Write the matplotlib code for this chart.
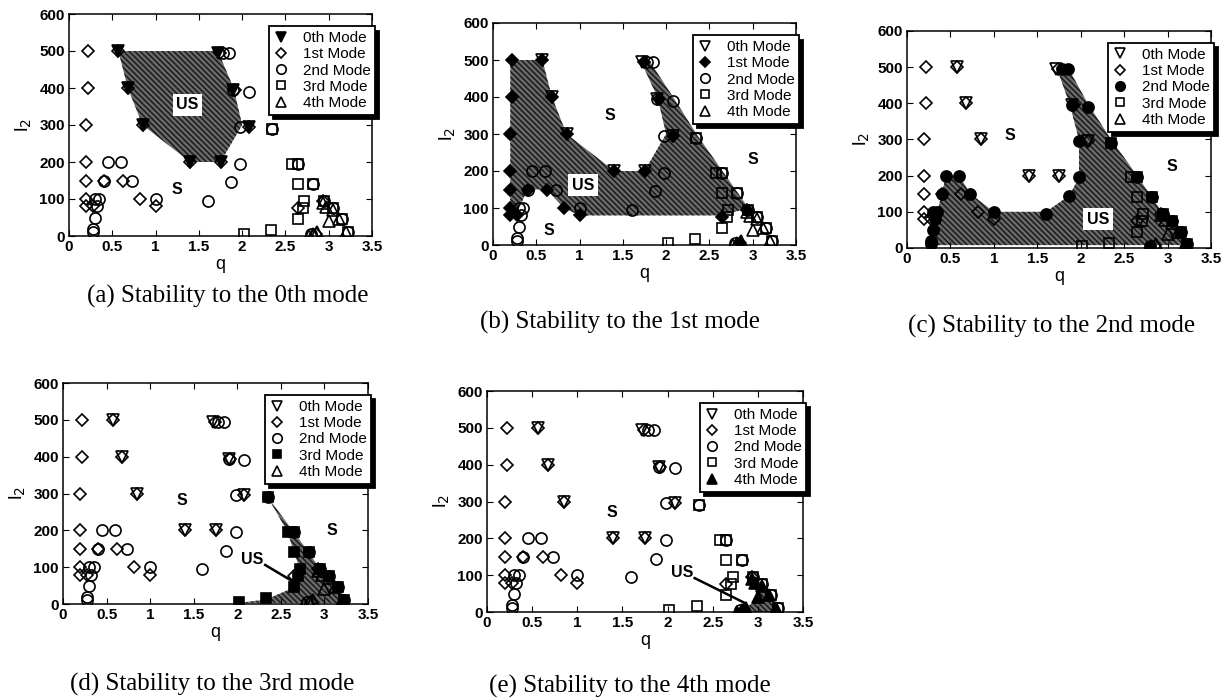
import numpy as np
import matplotlib
matplotlib.use('Agg')
import matplotlib.pyplot as plt

# data points (q, l2) where each mode was evaluated
q0 = [0.57, 0.68, 0.85, 1.40, 1.75, 1.72, 1.90, 2.08]
l0 = [500, 400, 300, 200, 200, 495, 395, 295]

q1 = [0.22, 0.22, 0.20, 0.20, 0.20, 0.20, 0.20, 0.28, 0.40, 0.62, 0.82, 1.00,
      0.57, 0.68, 0.85, 1.40, 1.75, 1.74, 1.92, 2.08, 2.65, 2.93, 2.85]
l1 = [500, 400, 300, 200, 150, 100, 80, 80, 150, 150, 100, 80,
      500, 400, 300, 200, 200, 495, 395, 295, 75, 95, 5]

q2 = [0.28, 0.28, 0.30, 0.32, 0.30, 0.35, 0.45, 0.60, 0.40, 0.73, 1.00, 1.60,
      1.87, 1.98, 1.98, 1.90, 2.08, 1.78, 1.85, 2.35, 2.65, 2.82, 2.95, 3.05,
      3.15, 3.22, 2.80]
l2 = [20, 10, 50, 80, 100, 100, 200, 200, 150, 150, 100, 95,
      145, 195, 295, 395, 390, 495, 495, 290, 195, 140, 95, 75,
      45, 10, 5]

q3 = [2.02, 2.33, 2.65, 2.70, 2.72, 2.65, 2.58, 2.35, 2.65, 2.82, 2.95, 3.05, 3.15, 3.22]
l3 = [5, 15, 45, 75, 95, 140, 195, 290, 195, 140, 95, 75, 45, 10]

q4 = [2.93, 2.97, 3.05, 3.00, 3.12, 3.20, 2.77, 2.87, 2.82]
l4 = [90, 78, 70, 40, 45, 10, 0, 10, 5]

mode_q = [q0, q1, q2, q3, q4]
mode_l = [l0, l1, l2, l3, l4]
mode_names = ['0th Mode', '1st Mode', '2nd Mode', '3rd Mode', '4th Mode']
mode_markers = ['v', 'D', 'o', 's', '^']
mode_sizes = [8, 6, 8, 7.5, 8]

# unstable regions for each panel
us_q = [
    [0.57, 1.72, 1.90, 2.00, 1.75, 1.40, 0.85, 0.68],
    [0.20, 0.57, 0.68, 0.85, 1.40, 1.75, 2.00, 1.90, 1.70, 1.80, 2.08, 2.35, 2.65,
     2.95, 2.65, 1.00, 0.82, 0.62, 0.40, 0.30, 0.25, 0.20],
    [0.30, 0.35, 0.45, 0.60, 0.73, 1.00, 1.60, 1.87, 1.98, 1.98, 1.87, 1.72, 1.85,
     2.08, 2.35, 2.65, 2.82, 2.95, 3.05, 3.15, 3.22, 3.20, 0.30],
    [2.35, 2.58, 2.65, 2.72, 2.65, 2.33, 2.02, 3.22, 3.22, 3.15, 3.05, 2.95, 2.82, 2.65],
    [2.95, 3.05, 3.12, 3.22, 3.20, 2.77, 2.87, 3.00, 2.95],
]
us_l = [
    [500, 500, 400, 300, 200, 200, 300, 400],
    [500, 500, 400, 300, 200, 200, 300, 400, 500, 500, 400, 300, 200,
     100, 80, 80, 100, 150, 150, 100, 80, 80],
    [10, 100, 200, 200, 150, 100, 100, 145, 195, 300, 400, 500, 500,
     400, 300, 200, 140, 95, 75, 45, 10, 8, 8],
    [290, 195, 140, 95, 45, 12, 3, 3, 10, 45, 75, 95, 140, 195],
    [95, 75, 45, 10, 0, 0, 10, 40, 75],
]

captions = ['(a) Stability to the 0th mode', '(b) Stability to the 1st mode',
            '(c) Stability to the 2nd mode', '(d) Stability to the 3rd mode',
            '(e) Stability to the 4th mode']

# labels: (q, l2, text)
labels = [
    [(1.37, 355, 'US'), (1.25, 125, 'S')],
    [(1.35, 350, 'S'), (1.04, 162, 'US'), (3.0, 230, 'S'), (0.64, 40, 'S')],
    [(1.19, 310, 'S'), (2.2, 80, 'US'), (3.05, 224, 'S')],
    [(1.37, 282, 'S'), (2.17, 120, 'US'), (3.08, 200, 'S')],
    [(1.38, 269, 'S'), (2.16, 106, 'US')],
]
pointers = [None, None, None, [(2.32, 106), (2.66, 58)], [(2.30, 92), (2.86, 24)]]

# axes boxes in pixels: left, right, top, bottom
boxes = [(69, 372, 14, 236), (493, 796, 23, 245), (907, 1211, 31, 248),
         (63, 368, 383, 604), (487, 803, 391, 612)]
cap_pos = [(228, 296), (620, 322), (1052, 326), (212, 684), (630, 686)]

W, H = 1226, 698
plt.rcParams['font.family'] = ['Liberation Sans', 'DejaVu Sans']
plt.rcParams['hatch.linewidth'] = 1.1

fig = plt.figure(figsize=(W / 100, H / 100), dpi=100)

for p in range(5):
    x0, x1, y0, y1 = boxes[p]
    ax = fig.add_axes([x0 / W, 1 - y1 / H, (x1 - x0) / W, (y1 - y0) / H])

    ax.fill(us_q[p], us_l[p], facecolor='#6a6a6a', edgecolor='#1a1a1a',
            hatch='\\\\\\\\\\\\', linewidth=0, zorder=1)

    handles = []
    for m in range(5):
        filled = (m == p)
        h, = ax.plot(mode_q[m], mode_l[m], linestyle='none', marker=mode_markers[m],
                     markersize=mode_sizes[m], markeredgecolor='k', markeredgewidth=1.2,
                     markerfacecolor='k' if filled else 'none', label=mode_names[m],
                     zorder=5 if filled else 3)
        handles.append(h)

    for (tq, tl, tx) in labels[p]:
        if tx == 'US':
            ax.text(tq, tl, tx, ha='center', va='center', fontsize=11.5, fontweight='bold',
                    zorder=6, bbox=dict(facecolor='white', edgecolor='none', pad=2.5))
        else:
            ax.text(tq, tl, tx, ha='center', va='center', fontsize=11.5, fontweight='bold',
                    zorder=6)
    if pointers[p] is not None:
        (a, b), (c, d) = pointers[p]
        ax.plot([a, c], [b, d], color='k', linewidth=1.8, zorder=6)

    ax.set_xlim(0, 3.5)
    ax.set_ylim(0, 600)
    ax.set_xticks([0, 0.5, 1, 1.5, 2, 2.5, 3, 3.5])
    ax.set_xticklabels(['0', '0.5', '1', '1.5', '2', '2.5', '3', '3.5'])
    ax.set_yticks([0, 100, 200, 300, 400, 500, 600])
    ax.tick_params(direction='in', top=True, right=True, labelsize=11, length=4, pad=3)
    for t in ax.get_xticklabels() + ax.get_yticklabels():
        t.set_fontweight('bold')
    for s in ax.spines.values():
        s.set_linewidth(1.1)
    ax.set_xlabel('q', fontsize=13, labelpad=1)
    ax.set_ylabel('l$_2$', fontsize=14, labelpad=4)

    leg = ax.legend(handles=handles, loc='upper right', bbox_to_anchor=(1.025, 0.965),
                    fontsize=11, frameon=True, fancybox=False, edgecolor='k',
                    shadow={'color': 'k', 'alpha': 1.0, 'ox': 3, 'oy': -3},
                    handlelength=1.0, handletextpad=0.9, labelspacing=0.15,
                    borderpad=0.3, borderaxespad=0.3, markerscale=0.85)
    leg.get_frame().set_linewidth(1.3)
    leg.set_zorder(10)

    cx, cy = cap_pos[p]
    fig.text(cx / W, 1 - cy / H, captions[p], ha='center', va='center', fontsize=18,
             family=['Liberation Serif', 'DejaVu Serif'])

fig.savefig('out.png', dpi=100)
